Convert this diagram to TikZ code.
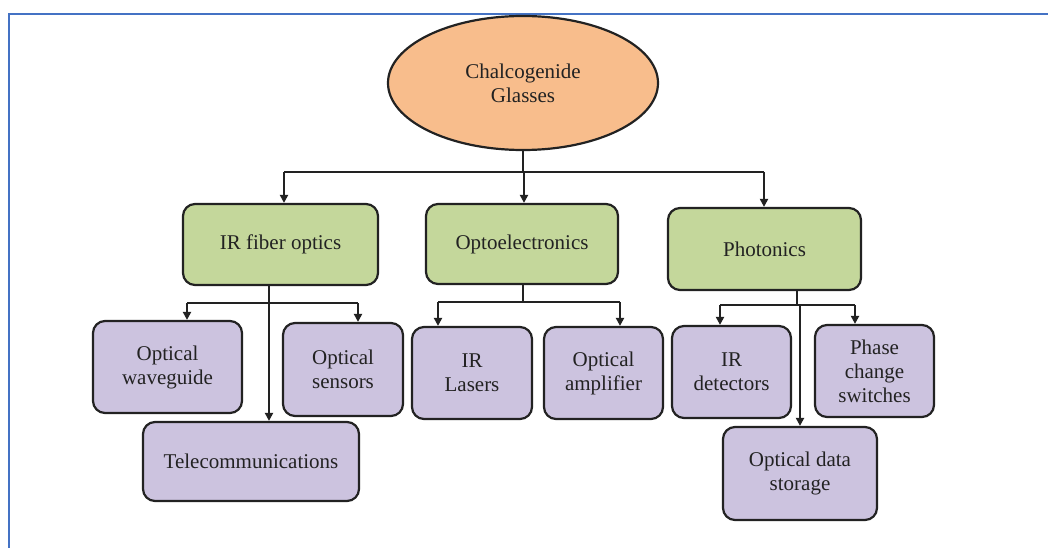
\documentclass[tikz,border=0pt]{standalone}
\usepackage{fontspec}
\setmainfont{Liberation Serif}
\usetikzlibrary{shapes.geometric,arrows.meta}
\definecolor{frameblue}{HTML}{4472C4}
\definecolor{peach}{HTML}{F8BD8C}
\definecolor{leaf}{HTML}{C4D79B}
\definecolor{lilac}{HTML}{CCC3DF}
\definecolor{ink}{HTML}{222222}
\tikzset{
  rootnode/.style={ellipse, draw=ink, line width=2.2pt, fill=peach, minimum width=270pt, minimum height=134pt, inner sep=0pt, align=center, text=ink, font=\fontsize{21}{24}\selectfont},
  greenbox/.style={rectangle, rounded corners=12pt, draw=ink, line width=2.2pt, fill=leaf, inner sep=0pt, align=center, text=ink, font=\fontsize{21}{24}\selectfont},
  purplebox/.style={rectangle, rounded corners=12pt, draw=ink, line width=2.2pt, fill=lilac, inner sep=0pt, align=center, text=ink, font=\fontsize{21}{24}\selectfont},
  link/.style={draw=ink, line width=2pt},
  arrowlink/.style={draw=ink, line width=2pt, -{Triangle[length=8pt,width=8pt]}},
}
\begin{document}
\begin{tikzpicture}[x=1pt,y=-1pt]
\useasboundingbox (0,0) rectangle (1048,548);
\fill[white] (0,0) rectangle (1048,548);
% frame
\coordinate (fa) at (9,548);
\coordinate (fb) at (9,14);
\coordinate (fc) at (1048,14);
\draw[frameblue, line width=2.5pt] (fa) -- (fb) -- (fc);

% nodes
\node[rootnode] (root) at (523,83) {Chalcogenide\\Glasses};
\node[greenbox, minimum width=195pt, minimum height=81pt] (g1) at (280.5,244.5) {IR fiber optics};
\node[greenbox, minimum width=192pt, minimum height=80pt] (g2) at (522,244) {Optoelectronics};
\node[greenbox, minimum width=193pt, minimum height=82pt] (g3) at (764.5,249) {Photonics};

\node[purplebox, minimum width=149pt, minimum height=92pt] (p1) at (167.5,367) {Optical\\waveguide};
\node[purplebox, minimum width=120pt, minimum height=93pt] (p2) at (343,369.5) {Optical\\sensors};
\node[purplebox, minimum width=216pt, minimum height=79pt] (p3) at (251,461.5) {Telecommunications};
\node[purplebox, minimum width=120pt, minimum height=92pt] (p4) at (472,373) {IR\\Lasers};
\node[purplebox, minimum width=119pt, minimum height=92pt] (p5) at (603.5,373) {Optical\\amplifier};
\node[purplebox, minimum width=119pt, minimum height=92pt] (p6) at (731.5,372) {IR\\detectors};
\node[purplebox, minimum width=119pt, minimum height=92pt] (p7) at (874.5,371) {Phase\\change\\switches};
\node[purplebox, minimum width=154pt, minimum height=93pt] (p8) at (800,473.5) {Optical data\\storage};

% root -> level 1
\coordinate (j0) at (523,172);
\coordinate (ja) at (284,172);
\coordinate (jb) at (524,172);
\coordinate (jc) at (764,172);
\draw[link] (root.south) -- (j0);
\draw[link] (ja) -- (jc);
\draw[arrowlink] (ja) -- (ja |- g1.north);
\draw[arrowlink] (jb) -- (jb |- g2.north);
\draw[arrowlink] (jc) -- (jc |- g3.north);

% IR fiber optics branch
\coordinate (k1) at (269,303);
\coordinate (k1a) at (187,303);
\coordinate (k1b) at (358,303);
\draw[arrowlink] (g1.south -| k1) -- (p3.north -| k1);
\draw[link] (k1a) -- (k1b);
\draw[arrowlink] (k1a) -- (k1a |- p1.north);
\draw[arrowlink] (k1b) -- (k1b |- p2.north);

% Optoelectronics branch
\coordinate (k2) at (523,302);
\coordinate (k2a) at (438,302);
\coordinate (k2b) at (620,302);
\draw[link] (g2.south -| k2) -- (k2);
\draw[link] (k2a) -- (k2b);
\draw[arrowlink] (k2a) -- (k2a |- p4.north);
\draw[arrowlink] (k2b) -- (k2b |- p5.north);

% Photonics branch
\coordinate (k3) at (797,305);
\coordinate (k3a) at (720,305);
\coordinate (k3b) at (855,305);
\coordinate (k3c) at (800,305);
\draw[link] (g3.south -| k3) -- (k3);
\draw[link] (k3a) -- (k3b);
\draw[arrowlink] (k3a) -- (k3a |- p6.north);
\draw[arrowlink] (k3b) -- (k3b |- p7.north);
\draw[arrowlink] (k3c) -- (k3c |- p8.north);
\end{tikzpicture}
\end{document}
